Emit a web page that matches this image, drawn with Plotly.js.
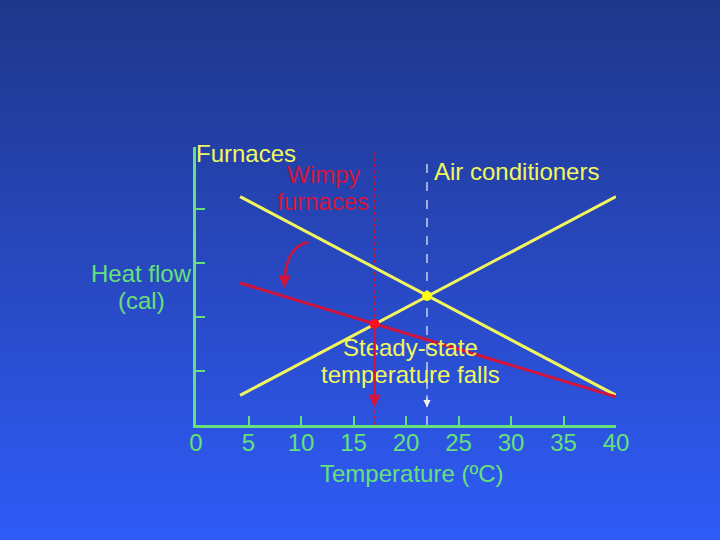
<!DOCTYPE html>
<html>
<head>
<meta charset="utf-8">
<script src="https://cdn.plot.ly/plotly-3.0.1.min.js"></script>
<style>
html,body{margin:0;padding:0;width:720px;height:540px;overflow:hidden;
background:linear-gradient(to bottom,#1e378a 0%,#2848c0 50%,#2f5cf8 100%);}
#chart{width:720px;height:540px;}
</style>
</head>
<body>
<div id="chart"></div>
<script>
// ---- data ----
var lineX = [4.2, 40];
var furnaceY = [4.23, 0.55];
var airCondY = [0.55, 4.23];
var wimpyY = [2.63, 0.52];
var steadyX = [22];
var steadyY = [2.39];
var newSteadyX = [17];
var newSteadyY = [1.87];
var guideTop = [5.04, 5.0];
var arrowTipY = 0.33;
var curveFrom = [10.7, 3.39];
var curveCtrl = [8.5, 3.3];
var curveTo = [8.4, 2.62];
var xTickVals = [0, 5, 10, 15, 20, 25, 30, 35, 40];
var xTickText = ['0', '5', '10', '15', '20', '25', '30', '35', '40'];
var yTickVals = [1, 2, 3, 4];
var furnacesLabel = 'Furnaces';
var wimpyLines = ['Wimpy', 'furnaces'];
var airLabel = 'Air conditioners';
var yTitleLines = ['Heat flow', '(cal)'];
var steadyLines = ['Steady-state', 'temperature falls'];
var xTitle = 'Temperature (ºC)';

var YEL = '#f2f75c', GRN = '#66e07a', RED = '#d2143c', WHT = '#f2f2f2';
var FONT = 'Liberation Sans, Arial, sans-serif';
var FS = 24;

var traces = [
  {x: [newSteadyX[0], newSteadyX[0]], y: [0, guideTop[0]], mode: 'lines',
   line: {color: 'rgba(205,20,50,0.9)', width: 1.2, dash: 'dot'}, hoverinfo: 'skip'},
  {x: [steadyX[0], steadyX[0]], y: [0, guideTop[1]], mode: 'lines',
   line: {color: WHT, width: 1.2, dash: 'dash'}, hoverinfo: 'skip'},
  {x: lineX, y: furnaceY, mode: 'lines', line: {color: YEL, width: 3}},
  {x: lineX, y: airCondY, mode: 'lines', line: {color: YEL, width: 3}},
  {x: lineX, y: wimpyY, mode: 'lines', line: {color: RED, width: 3}},
  {x: steadyX, y: steadyY, mode: 'markers', marker: {color: '#ffff00', size: 10}},
  {x: newSteadyX, y: newSteadyY, mode: 'markers', marker: {color: '#ff1020', size: 10}}
];

function ann(text, x, y, color, xanchor, ref) {
  return {text: text, x: x, y: y, xref: ref || 'x', yref: ref || 'y', showarrow: false,
    xanchor: xanchor || 'center', yanchor: 'middle',
    font: {family: FONT, size: FS, color: color}};
}

var annotations = [
  ann(furnacesLabel, -0.004, 0.977, YEL, 'left', 'paper'),
  ann(wimpyLines[0], 12.1, 4.648, RED),
  ann(wimpyLines[1], 12.1, 4.148, RED),
  ann(airLabel, 22.5, 4.70, YEL, 'left'),
  ann(yTitleLines[0], -0.1286, 0.545, GRN, 'center', 'paper'),
  ann(yTitleLines[1], -0.1286, 0.448, GRN, 'center', 'paper'),
  ann(steadyLines[0], 20.45, 1.435, YEL),
  ann(steadyLines[1], 20.45, 0.935, YEL),
  ann(xTitle, 0.512, -0.173, GRN, 'center', 'paper'),
  {x: newSteadyX[0], y: arrowTipY, ax: newSteadyX[0], ay: newSteadyY[0],
   xref: 'x', yref: 'y', axref: 'x', ayref: 'y', text: '', showarrow: true,
   arrowhead: 2, arrowsize: 1, arrowwidth: 2.5, arrowcolor: RED},
  {x: steadyX[0], y: arrowTipY, ax: steadyX[0], ay: arrowTipY + 0.25,
   xref: 'x', yref: 'y', axref: 'x', ayref: 'y', text: '', showarrow: true,
   arrowhead: 2, arrowsize: 1.2, arrowwidth: 1.2, arrowcolor: WHT},
  {x: curveTo[0], y: curveTo[1] - 0.08, ax: curveTo[0] + 0.02, ay: curveTo[1] + 0.05,
   xref: 'x', yref: 'y', axref: 'x', ayref: 'y', text: '', showarrow: true,
   arrowhead: 2, arrowsize: 1, arrowwidth: 2.5, arrowcolor: RED}
];

var shapes = [
  {type: 'path', xref: 'x', yref: 'y',
   path: 'M ' + curveFrom[0] + ',' + curveFrom[1] + ' Q ' + curveCtrl[0] + ',' + curveCtrl[1] + ' ' + curveTo[0] + ',' + curveTo[1],
   line: {color: RED, width: 2.5}}
];

var layout = {
  width: 720, height: 540,
  paper_bgcolor: 'rgba(0,0,0,0)', plot_bgcolor: 'rgba(0,0,0,0)',
  margin: {l: 196, r: 104, t: 147, b: 115, pad: 0},
  showlegend: false,
  font: {family: FONT, size: FS, color: GRN},
  xaxis: {range: [0, 40], showgrid: false, zeroline: false, showline: true,
    linecolor: GRN, linewidth: 3, ticks: 'inside', ticklen: 9, tickwidth: 2,
    tickcolor: GRN, tickvals: xTickVals, ticktext: xTickText, ticklabelstandoff: -6,
    tickfont: {family: FONT, size: FS, color: GRN}, fixedrange: true},
  yaxis: {range: [0, 5.15], showgrid: false, zeroline: false, showline: true,
    linecolor: GRN, linewidth: 3, ticks: 'inside', ticklen: 9, tickwidth: 2,
    tickcolor: GRN, tickvals: yTickVals, showticklabels: false, fixedrange: true},
  annotations: annotations,
  shapes: shapes
};

Plotly.newPlot('chart', traces, layout, {displayModeBar: false, staticPlot: true});
</script>
</body>
</html>
